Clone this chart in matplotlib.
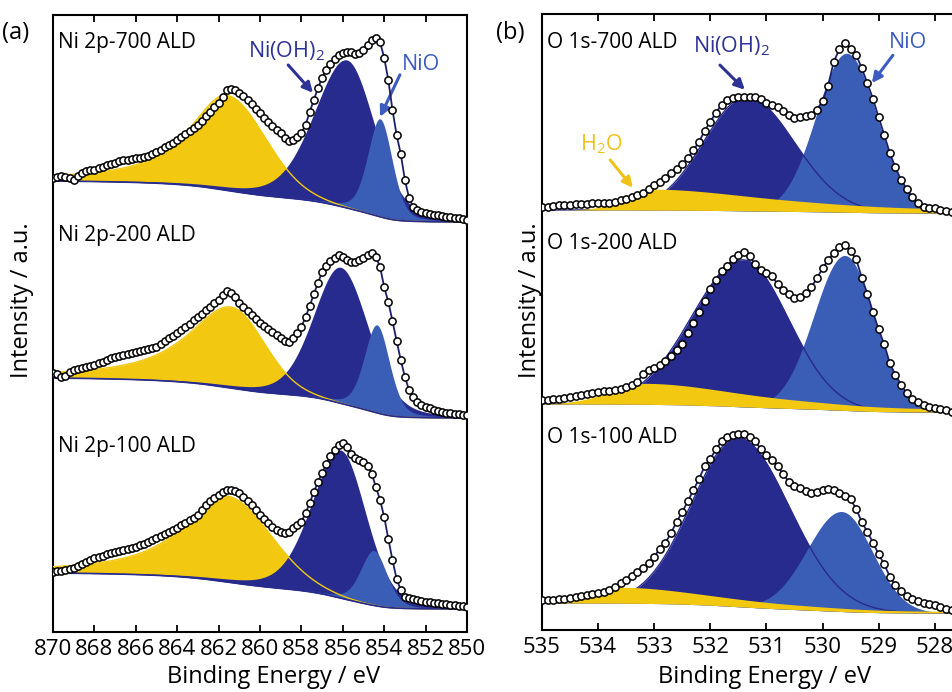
import numpy as np
import matplotlib
matplotlib.use("Agg")
import matplotlib.pyplot as plt

plt.rcParams['font.family'] = ['Open Sans', 'DejaVu Sans']
plt.rcParams['mathtext.fontset'] = 'custom'
plt.rcParams['mathtext.rm'] = 'Open Sans'
plt.rcParams['mathtext.it'] = 'Open Sans'

# ---------------- data ----------------
NI_LABELS = ["Ni 2p-700 ALD", "Ni 2p-200 ALD", "Ni 2p-100 ALD"]
O_LABELS = ["O 1s-700 ALD", "O 1s-200 ALD", "O 1s-100 ALD"]
NI_TICKS = [870, 868, 866, 864, 862, 860, 858, 856, 854, 852, 850]
O_TICKS = [535, 534, 533, 532, 531, 530, 529, 528]

# Ni 2p measured points, 870 -> 850 eV every 0.2 eV (intensity above each trace's baseline)
ni_700 = [44, 45, 46, 45, 44, 42, 46, 49, 51, 52,
          52, 54, 55, 57, 58, 59, 61, 62, 62, 63,
          64, 64, 65, 66, 68, 70, 72, 75, 77, 79,
          82, 85, 88, 91, 94, 97, 101, 106, 110, 115,
          119, 125, 132, 133, 132, 129, 126, 122, 118, 113,
          109, 104, 100, 96, 92, 89, 84, 81, 82, 85,
          89, 97, 110, 122, 134, 144, 152, 158, 163, 167,
          169, 170, 170, 168, 169, 172, 177, 182, 184, 180,
          164, 142, 112, 87, 68, 42, 24, 15, 12, 10,
          9, 8, 7, 7, 6, 5, 5, 4, 4, 3,
          2]
ni_200 = [45, 44, 41, 42, 46, 48, 49, 50, 51, 52,
          53, 55, 56, 58, 60, 61, 62, 63, 64, 65,
          66, 67, 68, 69, 70, 71, 74, 77, 80, 82,
          85, 88, 91, 94, 98, 101, 104, 108, 111, 115,
          118, 123, 127, 125, 121, 115, 111, 107, 103, 99,
          95, 92, 89, 86, 83, 80, 77, 76, 80, 85,
          91, 101, 112, 124, 135, 146, 152, 157, 160, 163,
          161, 158, 156, 156, 158, 160, 163, 165, 161, 151,
          131, 116, 97, 77, 58, 41, 28, 21, 16, 13,
          11, 10, 8, 7, 6, 5, 5, 4, 4, 3,
          3]
ni_100 = [37, 38, 38, 39, 40, 41, 43, 45, 47, 49,
          51, 52, 53, 55, 56, 57, 58, 59, 60, 61,
          62, 64, 65, 67, 69, 71, 73, 75, 77, 79,
          81, 84, 86, 89, 91, 94, 99, 104, 108, 111,
          114, 117, 119, 119, 118, 116, 112, 108, 104, 99,
          94, 90, 86, 82, 79, 77, 76, 77, 81, 84,
          87, 96, 106, 117, 127, 136, 145, 153, 159, 164,
          166, 162, 155, 151, 149, 147, 143, 135, 122, 109,
          92, 70, 49, 30, 19, 12, 11, 10, 9, 8,
          7, 7, 6, 6, 5, 5, 4, 4, 3, 3,
          2]

# O 1s measured points, 535.0 -> 527.7 eV every 0.1 eV
o_700 = [6.0, 6.3, 7.0, 7.7, 8.0, 8.3, 8.7, 9.0, 9.3, 9.7,
         9.7, 9.7, 10.0, 11.0, 12.7, 14.3, 16.3, 18.3, 20.3, 24.3,
         28.3, 31.0, 35.3, 39.7, 43.7, 48.7, 55.0, 63.0, 71.3, 82.3,
         91.3, 100.3, 108.0, 113.0, 115.0, 116.3, 116.3, 116.3, 116.3, 113.7,
         110.0, 108.3, 106.0, 102.0, 98.0, 95.3, 96.3, 97.0, 98.3, 103.3,
         112.0, 127.3, 151.3, 163.7, 169.7, 164.3, 158.0, 144.7, 129.7, 114.0,
         95.7, 78.3, 59.7, 45.7, 33.0, 24.3, 16.0, 9.7, 6.3, 5.3,
         4.7, 3.3, 1.7, 0.7]
o_200 = [11.7, 12.0, 12.7, 13.3, 14.0, 14.7, 15.7, 16.7, 18.3, 19.3,
         20.0, 20.7, 21.3, 22.3, 23.3, 25.3, 27.0, 29.7, 38.0, 41.7,
         44.0, 46.7, 51.0, 55.7, 62.0, 67.7, 79.3, 88.7, 100.0, 111.3,
         122.7, 132.0, 141.3, 145.7, 153.0, 157.3, 160.0, 156.0, 147.7, 142.3,
         139.0, 136.0, 127.7, 122.0, 117.7, 114.0, 115.3, 119.0, 124.7, 133.7,
         143.7, 152.0, 159.0, 164.7, 167.0, 161.0, 152.7, 134.3, 118.0, 99.7,
         82.7, 67.7, 48.7, 37.0, 27.3, 18.7, 12.7, 10.0, 7.3, 5.3,
         4.3, 3.0, 1.7, 0.3]
o_100 = [12.7, 13.0, 13.3, 13.7, 14.3, 15.0, 15.7, 17.0, 18.0, 19.0,
         20.0, 21.3, 23.0, 26.0, 30.0, 33.0, 37.3, 41.3, 44.7, 49.7,
         56.3, 64.3, 70.3, 80.0, 91.3, 101.0, 112.0, 123.0, 134.3, 146.7,
         154.0, 163.7, 171.7, 176.3, 177.7, 179.3, 178.7, 175.7, 171.7, 164.0,
         158.3, 152.7, 146.7, 138.7, 131.3, 127.3, 124.7, 121.7, 120.0, 121.3,
         123.3, 123.7, 123.0, 120.0, 117.3, 113.7, 104.0, 91.0, 81.0, 70.3,
         58.7, 48.7, 36.3, 27.7, 21.7, 17.0, 13.7, 12.3, 10.3, 9.3,
         8.3, 5.7, 4.3, 3.3]

ni_offsets = [410, 214, 23]
o_offsets = [417, 218, 17]
ni_bg_left = [41, 40, 36]
o_bg_left = [3, 8, 10]

# fitted components (centre eV, height, half widths high-BE / low-BE side)
sat_c = [861.6, 861.4, 861.6]
sat_h = [95, 81, 86]
sat_w_hi = [2.2, 2.5, 2.5]
sat_w_lo = [2.2, 1.9, 2.5]
nioh_c = [855.8, 856.1, 856.1]
nioh_h = [148, 136, 148]
nioh_w_hi = [1.85, 1.55, 1.65]
nioh_w_lo = [1.6, 1.6, 1.45]
nio_c = [854.2, 854.35, 854.5]
nio_h = [98, 88, 55]
nio_w = [0.7, 0.72, 0.75]

oh_c = [531.35, 531.41, 531.5]
oh_h = [114, 147, 169]
oh_w_hi = [0.9, 1.08, 0.97]
oh_w_lo = [1.0, 0.95, 1.07]
ox_c = [529.57, 529.6, 529.66]
ox_h = [159, 155, 100]
ox_w_hi = [0.64, 0.65, 0.72]
ox_w_lo = [0.64, 0.62, 0.65]
h2o_c = [533.05, 533.13, 533.6]
h2o_h = [21, 21, 16]
h2o_w_hi = [0.55, 0.75, 0.6]
h2o_w_lo = [2.6, 2.2, 2.0]

# ---------------- style ----------------
YELLOW = '#F2C811'
DARK = '#272B8E'
MED = '#3A5DB6'
NAVY = '#1C206B'
TXT_DARK = '#2D3296'
TXT_MED = '#3C5CC0'
TXT_YEL = '#EFC21A'


def peak(E, c, h, w_hi, w_lo, m_hi, m_lo):
    d = E - c
    w = np.where(d >= 0, w_hi, w_lo)
    m = np.where(d >= 0, m_hi, m_lo)
    x2 = (d / w) ** 2
    return h * ((1 - m) * np.exp(-np.log(2) * x2) + m / (1 + x2))


def shirley(total, left_val):
    c = np.cumsum(total)
    return left_val * c / c[-1]


W, H = 953, 692
fig = plt.figure(figsize=(W / 100, H / 100), dpi=100)
ax_a = fig.add_axes([53 / W, 60 / H, 414 / W, 617 / H])
ax_b = fig.add_axes([542 / W, 62 / H, 432 / W, 616 / H])

# ---------- panel (a) ----------
Ef = np.linspace(850, 870, 1201)
e_ni = 870 - 0.2 * np.arange(len(ni_700))
for i, data in enumerate([ni_700, ni_200, ni_100]):
    off = ni_offsets[i]
    sat = peak(Ef, sat_c[i], sat_h[i], sat_w_hi[i], sat_w_lo[i], 0.9, 0.0)
    noh = peak(Ef, nioh_c[i], nioh_h[i], nioh_w_hi[i], nioh_w_lo[i], 0.25, 0.25)
    no = peak(Ef, nio_c[i], nio_h[i], nio_w[i], nio_w[i], 0.3, 0.3)
    base = off + shirley(sat + noh + no, ni_bg_left[i])
    ax_a.fill_between(Ef, base, base + sat, color=YELLOW, lw=0, zorder=1)
    ax_a.fill_between(Ef, base, base + noh, color=DARK, lw=0, zorder=2)
    ax_a.fill_between(Ef, base, base + no, color=MED, lw=0, zorder=3)
    ax_a.plot(Ef, base + sat, color=YELLOW, lw=1.0, zorder=4)
    ax_a.plot(Ef, base, color=DARK, lw=1.2, zorder=4)
    y = off + np.array(data)
    ax_a.plot(e_ni, y, color=NAVY, lw=1.3, zorder=5)
    ax_a.plot(e_ni, y, 'o', ms=5.2, mfc='white', mec='black', mew=1.1, zorder=6)

ax_a.set_xlim(870, 850)
ax_a.set_ylim(0, 617)
ax_a.set_xticks(NI_TICKS)

# ---------- panel (b) ----------
Eo = np.linspace(527.3, 535, 1201)
e_o = 535 - 0.1 * np.arange(len(o_700))
for i, data in enumerate([o_700, o_200, o_100]):
    off = o_offsets[i]
    h2o = peak(Eo, h2o_c[i], h2o_h[i], h2o_w_hi[i], h2o_w_lo[i], 0.0, 1.0)
    noh = peak(Eo, oh_c[i], oh_h[i], oh_w_hi[i], oh_w_lo[i], 0.0, 0.0)
    no = peak(Eo, ox_c[i], ox_h[i], ox_w_hi[i], ox_w_lo[i], 0.0, 0.0)
    base = off + shirley(h2o + noh + no, o_bg_left[i])
    ax_b.fill_between(Eo, base, base + noh, color=DARK, lw=0, zorder=1)
    ax_b.fill_between(Eo, base, base + no, color=MED, lw=0, zorder=2)
    ax_b.plot(Eo, base + noh, color=DARK, lw=1.0, zorder=3)
    ax_b.fill_between(Eo, base, base + h2o, color=YELLOW, lw=0, zorder=4)
    y = off + np.array(data)
    ax_b.plot(e_o, y, color=NAVY, lw=1.3, zorder=5)
    ax_b.plot(e_o, y, 'o', ms=5.2, mfc='white', mec='black', mew=1.1, zorder=6)

ax_b.set_xlim(535, 527.3)
ax_b.set_ylim(0, 616)
ax_b.set_xticks(O_TICKS)

for ax in (ax_a, ax_b):
    ax.set_yticks([])
    for s in ax.spines.values():
        s.set_linewidth(1.5)
        s.set_color('black')
    ax.tick_params(axis='x', direction='in', length=5, width=1.3, top=True,
                   labelsize=16, pad=5, colors='black')
    ax.set_xticklabels([str(t) for t in ax.get_xticks().astype(int)])

# trace labels
for lab, yf in zip(NI_LABELS, [0.955, 0.643, 0.300]):
    ax_a.text(0.012, yf, lab, transform=ax_a.transAxes, fontsize=15,
              ha='left', va='center')
for lab, yf in zip(O_LABELS, [0.953, 0.628, 0.312]):
    ax_b.text(0.012, yf, lab, transform=ax_b.transAxes, fontsize=15,
              ha='left', va='center')

# component annotations
def note(ax, text, xy_text, xy_tip, tail, color):
    ax.text(xy_text[0], xy_text[1], text, transform=ax.transAxes, fontsize=15.5,
            color=color, ha='center', va='baseline')
    ax.annotate('', xy=xy_tip, xytext=tail, xycoords='axes fraction',
                textcoords='axes fraction',
                arrowprops=dict(arrowstyle='-|>', color=color, lw=2.2,
                                mutation_scale=15, shrinkA=0, shrinkB=0))

bw = 432 / 420.75
note(ax_a, r'Ni(OH)$_\mathrm{2}$', (0.563, 0.932), (0.628, 0.874), (0.568, 0.919), TXT_DARK)
note(ax_a, 'NiO', (0.889, 0.911), (0.79, 0.835), (0.838, 0.903), TXT_MED)
note(ax_b, r'Ni(OH)$_\mathrm{2}$', (0.449 / bw, 0.937), (0.482 / bw, 0.877), (0.423 / bw, 0.917), TXT_DARK)
note(ax_b, 'NiO', (0.87 / bw, 0.945), (0.784 / bw, 0.888), (0.834 / bw, 0.933), TXT_MED)
note(ax_b, r'H$_\mathrm{2}$O', (0.14 / bw, 0.779), (0.216 / bw, 0.718), (0.162 / bw, 0.763), TXT_YEL)

fig.text(0.002, 1 - 33 / H, '(a)', fontsize=17, ha='left', va='center')
fig.text(496 / W, 1 - 33 / H, '(b)', fontsize=17, ha='left', va='center')
fig.text(22 / W, 1 - 300 / H, 'Intensity / a.u.', fontsize=17, rotation=90,
         ha='center', va='center')
fig.text(530 / W, 1 - 300 / H, 'Intensity / a.u.', fontsize=17, rotation=90,
         ha='center', va='center')
fig.text(274 / W, 1 - 677 / H, 'Binding Energy / eV', fontsize=17,
         ha='center', va='center')
fig.text(765 / W, 1 - 677 / H, 'Binding Energy / eV', fontsize=17,
         ha='center', va='center')

fig.savefig('out.png', dpi=100)
